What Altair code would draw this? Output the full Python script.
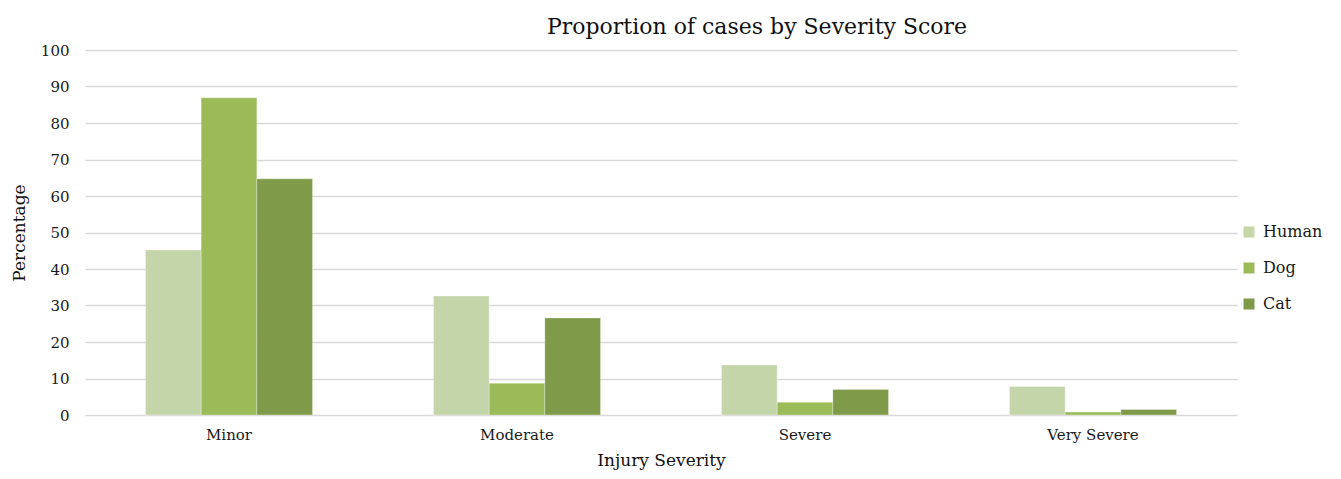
import altair as alt
import pandas as pd

categories = ["Minor", "Moderate", "Severe", "Very Severe"]
series = ["Human", "Dog", "Cat"]
human = [45.2, 32.6, 13.7, 7.8]
dog = [86.9, 8.7, 3.5, 0.8]
cat = [64.7, 26.6, 7.0, 1.5]
colors = ["#C5D5AA", "#9BBB59", "#7F9A48"]
y_ticks = [0, 10, 20, 30, 40, 50, 60, 70, 80, 90, 100]

rows = []
for s, vals in zip(series, [human, dog, cat]):
    for c, v in zip(categories, vals):
        rows.append({"Severity": c, "Species": s, "Value": v})
df = pd.DataFrame(rows)

FONT = "DejaVu Serif"

chart = alt.Chart(df).mark_bar(stroke="white", strokeWidth=0.5, strokeOpacity=0.6).encode(
    x=alt.X("Severity:N", sort=categories,
            scale=alt.Scale(paddingInner=0.42, paddingOuter=0.21),
            axis=alt.Axis(title="Injury Severity", labelAngle=0, domain=False, ticks=False,
                          labelPadding=12, titlePadding=10)),
    xOffset=alt.XOffset("Species:N", sort=series, scale=alt.Scale(paddingInner=0, paddingOuter=0)),
    y=alt.Y("Value:Q", scale=alt.Scale(domain=[0, 100], nice=False),
            axis=alt.Axis(title="Percentage", values=y_ticks, domain=False, ticks=False,
                          labelPadding=16, titlePadding=12, grid=True)),
    color=alt.Color("Species:N", sort=series,
                    scale=alt.Scale(domain=series, range=colors),
                    legend=alt.Legend(title=None, orient="none", legendX=1156, legendY=174,
                                      symbolType="square", symbolSize=121, symbolStrokeWidth=0,
                                      rowPadding=20, labelFontSize=16, labelFont=FONT,
                                      labelColor="#1a1a1a", labelOffset=6)),
).properties(
    width=1152, height=365,
    title=alt.TitleParams("Proportion of cases by Severity Score", fontSize=22, font=FONT,
                          fontWeight="normal", color="#111111", anchor="middle", dx=96, offset=4),
    autosize=alt.AutoSizeParams(type="none"),
    padding={"left": 77, "top": 42, "right": 96, "bottom": 56},
).configure_axis(
    labelFont=FONT, titleFont=FONT, labelFontSize=15, titleFontSize=17,
    labelColor="#1a1a1a", titleColor="#111111", titleFontWeight="normal",
    gridColor="#D9D9D9", gridWidth=1.5,
).configure_view(stroke=None)

chart.save("out.html", embed_options={"renderer": "svg", "actions": False})
